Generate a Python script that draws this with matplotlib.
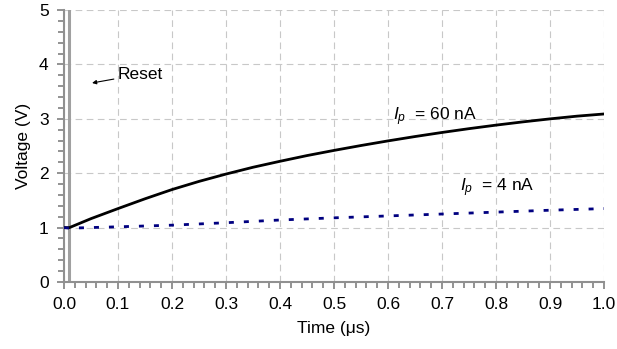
import matplotlib.pyplot as plt
from matplotlib.ticker import MultipleLocator

plt.rcParams['font.family'] = ['Liberation Sans', 'DejaVu Sans']
plt.rcParams['mathtext.fontset'] = 'custom'
plt.rcParams['mathtext.it'] = 'Liberation Sans:italic'
plt.rcParams['mathtext.rm'] = 'Liberation Sans'

# tempo (us) e tensao (V)
tempo_60 = [0.0, 0.01, 0.05, 0.1, 0.15, 0.2, 0.25, 0.3, 0.35, 0.4, 0.45, 0.5,
            0.55, 0.6, 0.65, 0.7, 0.75, 0.8, 0.85, 0.9, 0.95, 1.0]
v_60nA = [1.0, 1.0, 1.165, 1.35, 1.53, 1.70, 1.85, 1.985, 2.11, 2.22, 2.325, 2.42,
          2.51, 2.595, 2.675, 2.75, 2.82, 2.885, 2.945, 3.0, 3.05, 3.09]
tempo_4 = [0.0, 0.01, 0.1, 0.2, 0.3, 0.4, 0.5, 0.6, 0.7, 0.8, 0.9, 1.0]
v_4nA = [1.0, 0.99, 1.015, 1.045, 1.09, 1.14, 1.18, 1.215, 1.25, 1.285, 1.32, 1.35]

reset_t = 0.01

fig = plt.figure(figsize=(6.17, 3.49), dpi=100)
ax = fig.add_axes([0.1037, 0.192, 0.8753, 0.779])

ax.axvline(reset_t, color='#a0a0a0', lw=2.2, zorder=2)
ax.plot(tempo_60, v_60nA, color='black', lw=2.0, zorder=3)
ax.plot(tempo_4, v_4nA, color='#000080', lw=2.0, dashes=(1.8, 3.6), zorder=3)

ax.set_xlim(0, 1.0)
ax.set_ylim(0, 5)
ax.xaxis.set_major_locator(MultipleLocator(0.1))
ax.xaxis.set_minor_locator(MultipleLocator(0.02))
ax.yaxis.set_major_locator(MultipleLocator(1))
ax.yaxis.set_minor_locator(MultipleLocator(0.2))
ax.xaxis.set_major_formatter(plt.FuncFormatter(lambda v, p: f'{v:.1f}'))

ax.grid(True, which='major', color='#c8c8c8', lw=0.8, dashes=(6, 4))
for s in ['top', 'right']:
    ax.spines[s].set_visible(False)
for s in ['left', 'bottom']:
    ax.spines[s].set_color('#909090')
    ax.spines[s].set_linewidth(1.5)
ax.tick_params(which='both', direction='out', color='#808080', width=1.2,
               labelsize=12.5, labelcolor='black')
ax.tick_params(which='major', length=5, pad=6)
ax.tick_params(which='minor', length=4)

ax.set_xlabel('Time (\u03bcs)', fontsize=12.5, labelpad=6)
ax.set_ylabel('Voltage (V)', fontsize=12.5, labelpad=6)

ax.annotate('Reset', xy=(0.052, 3.66), xytext=(0.1, 3.82), fontsize=12.5,
            va='center', ha='left',
            arrowprops=dict(arrowstyle='-|>', color='black', lw=0.8,
                            mutation_scale=6, shrinkA=1, shrinkB=0))
ax.text(0.61, 3.04, r'$I_p$  = 60 nA', fontsize=12.5, va='center')
ax.text(0.733, 1.73, r'$I_p$  = 4 nA', fontsize=12.5, va='center')

fig.savefig('out.png', dpi=100)
